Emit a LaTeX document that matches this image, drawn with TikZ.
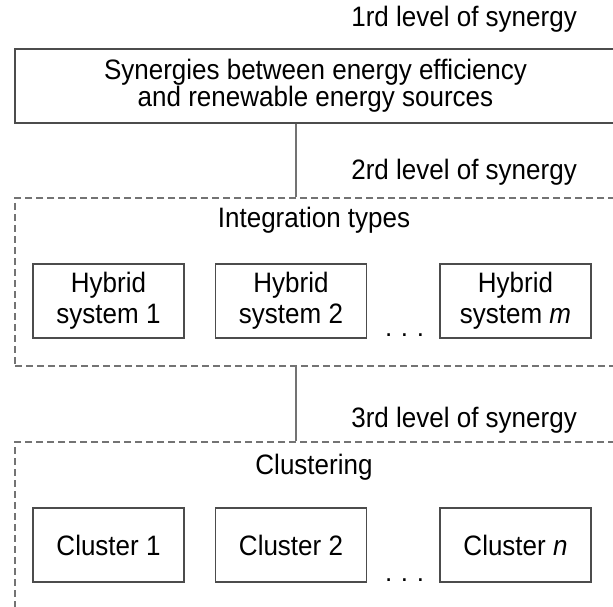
\documentclass[tikz,border=0pt]{standalone}
\usepackage{graphicx}
\usepackage{fontspec}
\setmainfont{Liberation Sans}
\definecolor{boxline}{gray}{0.30}
\definecolor{dashline}{gray}{0.45}
\newcommand{\tallt}[1]{\scalebox{1}[1.08]{#1}}
\begin{document}
\begin{tikzpicture}[x=1pt,y=-1pt,
  every node/.style={font=\fontsize{26}{29}\selectfont},
  solidbox/.style={draw=boxline,line width=1.3pt,align=center,inner sep=0pt},
  smallbox/.style={solidbox,minimum width=151pt,minimum height=74pt},
  groupbox/.style={draw=dashline,line width=1.1pt,dash pattern=on 7pt off 4pt,inner sep=0pt},
  levellabel/.style={anchor=base east,inner sep=0pt},
  titlelabel/.style={anchor=base,inner sep=0pt},
  dotslabel/.style={anchor=base,inner sep=0pt},
  link/.style={draw=dashline,line width=1.3pt}]
\useasboundingbox (0,0) rectangle (613,607);
\fill[white] (0,0) rectangle (613,607);
\begin{scope}
\clip (0,0) rectangle (613,607);
% level 1
\node[levellabel] (lvl1) at (577,27) {\tallt{1rd level of synergy}};
\node[solidbox,minimum width=601pt,minimum height=74pt,font=\fontsize{26}{26}\selectfont] (top) at (315.5,86)
  {\tallt{Synergies between energy efficiency}\\\tallt{and renewable energy sources}};
% level 2
\node[levellabel] (lvl2) at (577,179) {\tallt{2rd level of synergy}};
\node[groupbox,minimum width=601pt,minimum height=168pt] (grp1) at (315.5,282) {};
\node[titlelabel] (integ) at (314,227) {\tallt{Integration types}};
\node[smallbox,font=\fontsize{26}{31}\selectfont] (h1) at (108.5,301) {\tallt{Hybrid}\\\tallt{system 1}};
\node[smallbox,font=\fontsize{26}{31}\selectfont] (h2) at (291,301) {\tallt{Hybrid}\\\tallt{system 2}};
\node[smallbox,font=\fontsize{26}{31}\selectfont] (h3) at (515.5,301) {\tallt{Hybrid}\\\tallt{system \textit{m}}};
\node[dotslabel] (d1) at (404.5,336) {.\,\,.\,\,.};
% level 3
\node[levellabel] (lvl3) at (577,427) {\tallt{3rd level of synergy}};
\node[groupbox,minimum width=601pt,minimum height=190pt] (grp2) at (315.5,537) {};
\node[titlelabel] (clus) at (314,474) {\tallt{Clustering}};
\node[smallbox] (c1) at (108.5,545) {\tallt{Cluster 1}};
\node[smallbox] (c2) at (291,545) {\tallt{Cluster 2}};
\node[smallbox] (c3) at (515.5,545) {\tallt{Cluster \textit{n}}};
\node[dotslabel] (d2) at (404.5,581) {.\,\,.\,\,.};
% connectors
\draw[link] ([xshift=-19.5pt]top.south) -- ([xshift=-19.5pt]grp1.north);
\draw[link] ([xshift=-19.5pt]grp1.south) -- ([xshift=-19.5pt]grp2.north);
\end{scope}
\end{tikzpicture}
\end{document}
